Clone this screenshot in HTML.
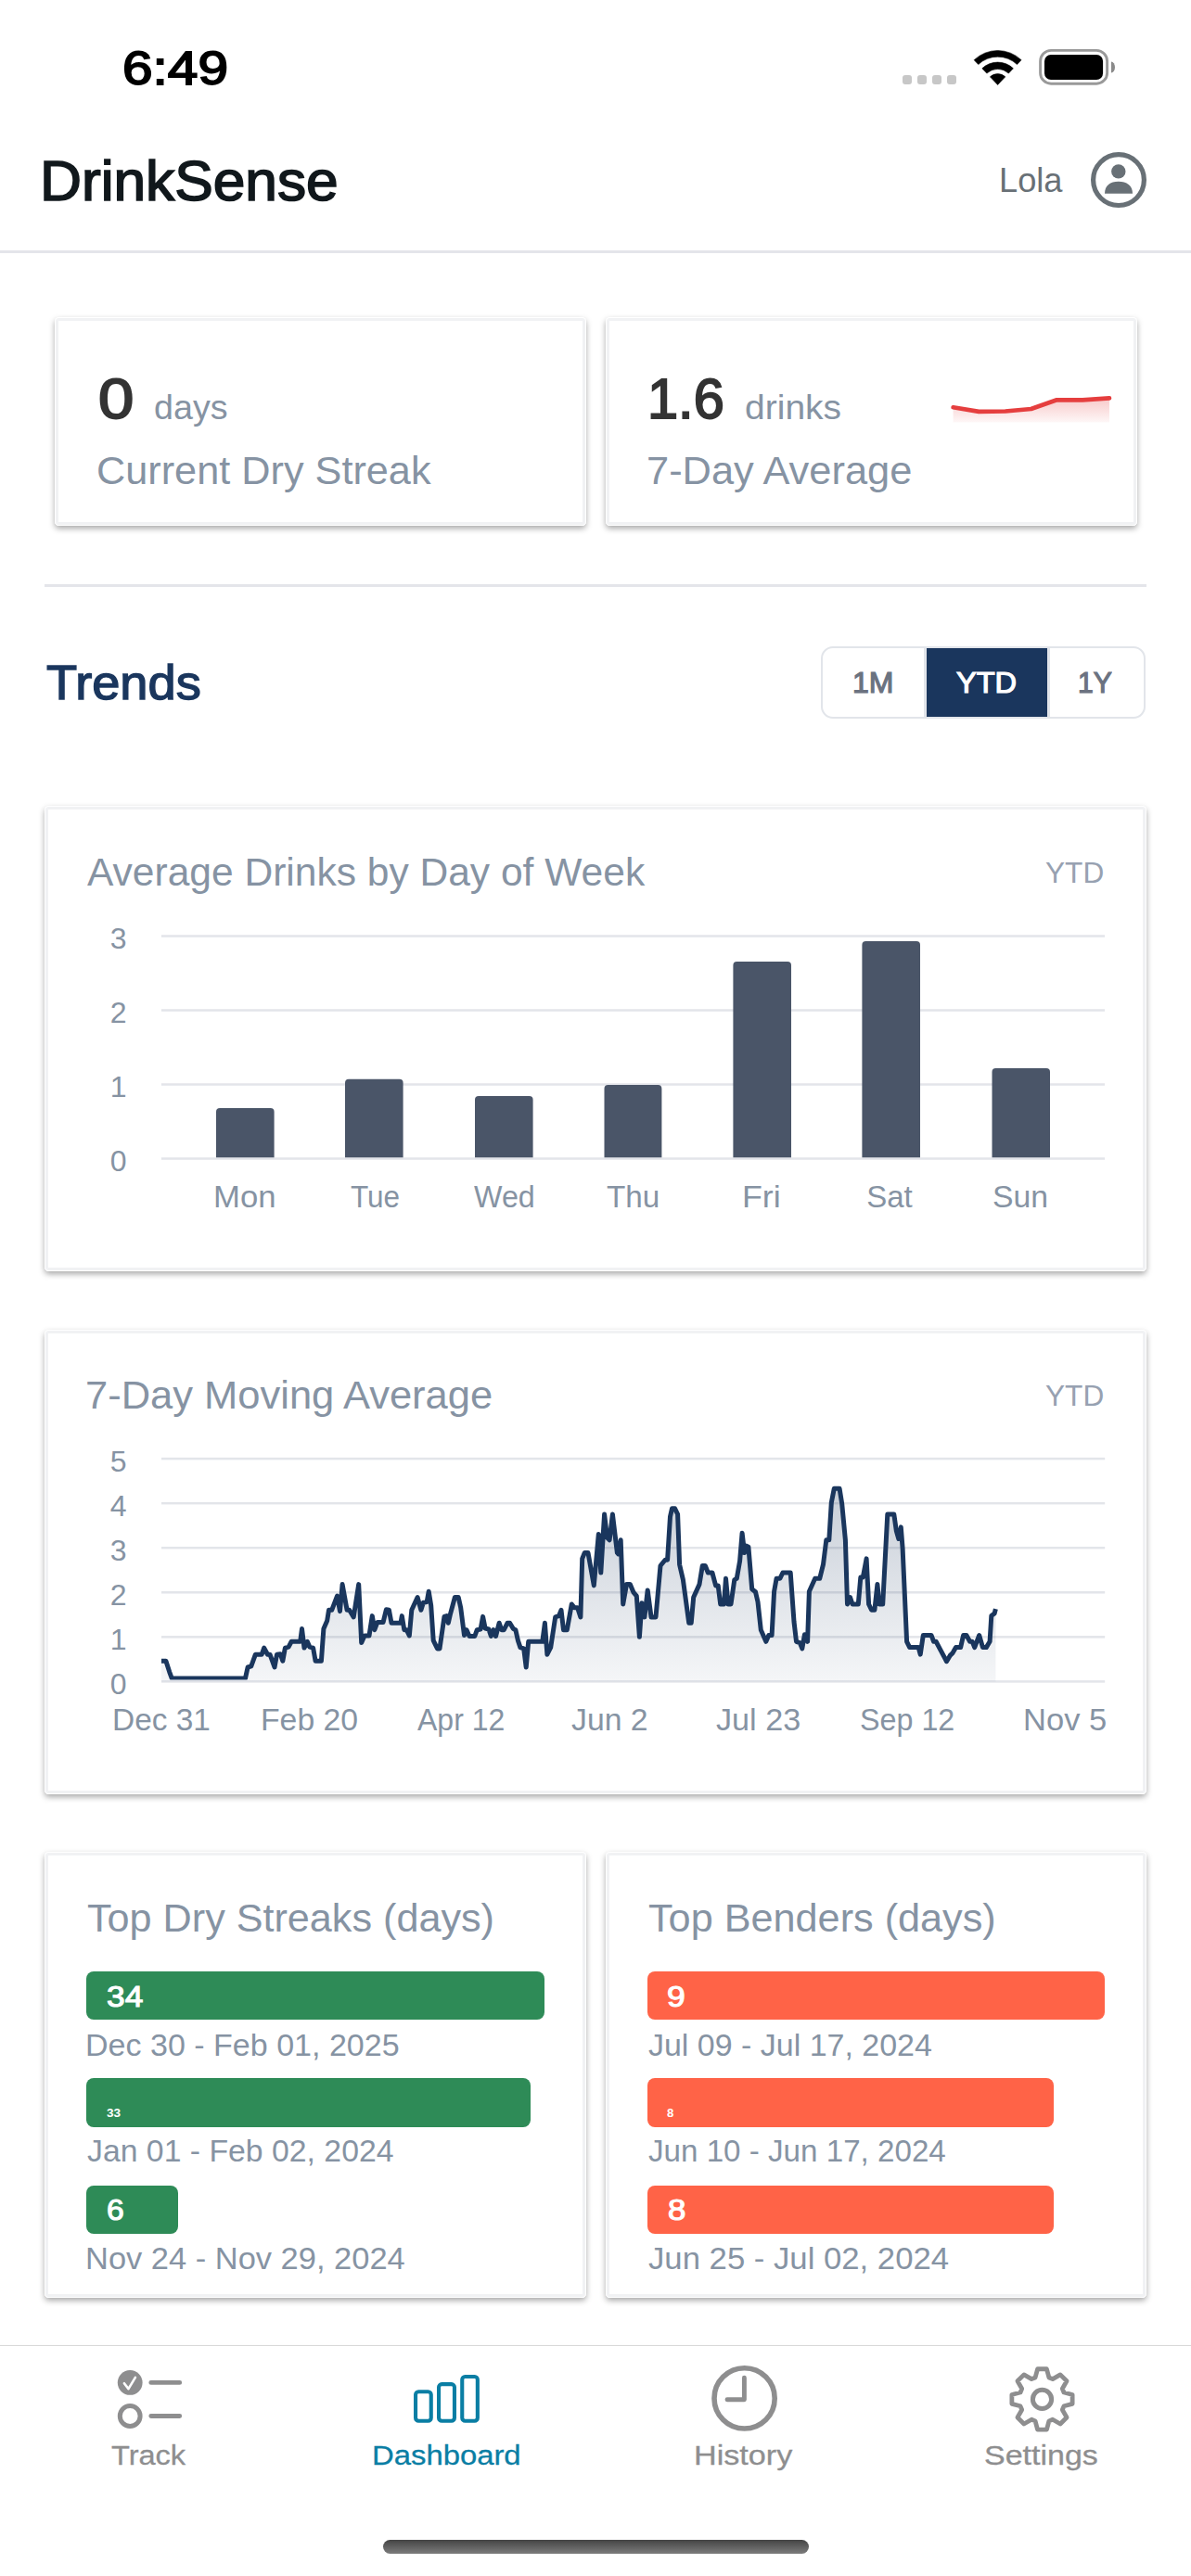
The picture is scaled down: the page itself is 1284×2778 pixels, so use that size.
<!DOCTYPE html>
<html lang="en"><head><meta charset="utf-8"><title>DrinkSense Dashboard</title>
<style>
html,body{margin:0;padding:0;background:#fff}
body{width:1284px;height:2778px;position:relative;overflow:hidden;font-family:"Liberation Sans",Arial,sans-serif}
.t{position:absolute;white-space:nowrap;line-height:1;transform-origin:0 0}
.abs{position:absolute;overflow:visible}
.card{position:absolute;background:#fff;box-sizing:border-box;border-radius:4.5px;box-shadow:inset 0 0 0 1px #fff,inset 0 0 0 4px #f1f2f4,0 3px 6px rgba(0,0,0,.34)}
</style></head>
<body>
<div class="t" style="left:131.51px;top:49.00px;font-size:50px;color:#000;transform:scaleX(1.1710);-webkit-text-stroke:1.8px #000;">6:49</div>
<div style="position:absolute;left:973.2px;top:81px;width:10px;height:10px;border-radius:3px;background:#c7c7c7"></div>
<div style="position:absolute;left:989.2px;top:81px;width:10px;height:10px;border-radius:3px;background:#c7c7c7"></div>
<div style="position:absolute;left:1005.0px;top:81px;width:10px;height:10px;border-radius:3px;background:#c7c7c7"></div>
<div style="position:absolute;left:1021.0px;top:81px;width:10px;height:10px;border-radius:3px;background:#c7c7c7"></div>
<svg class="abs" style="left:0;top:0" width="1284" height="120" viewBox="0 0 1284 120"><path d="M1054.74,69.52 L1050.13,64.66 A37.0,37.0 0 0 1 1101.07,64.66 L1096.46,69.52 A30.3,30.3 0 0 0 1054.74,69.52 Z M1063.83,79.10 L1058.80,73.80 A24.4,24.4 0 0 1 1092.40,73.80 L1087.37,79.10 A17.1,17.1 0 0 0 1063.83,79.10 Z M1075.6,91.5 L1067.41,82.87 A11.9,11.9 0 0 1 1083.79,82.87 Z" fill="#000" stroke="#000" stroke-width="0.6" stroke-linejoin="round"/><rect x="1121.6" y="54.4" width="72" height="35.8" rx="11.5" fill="none" stroke="#999" stroke-width="2.9"/><rect x="1126" y="58.9" width="63.1" height="27.2" rx="7" fill="#000"/><path d="M1198,66.4 A4,6.1 0 0 1 1198,78.6 Z" fill="#8a8a8a"/></svg>
<div class="t" style="left:42.75px;top:164.00px;font-size:62px;color:#11181c;transform:scaleX(1.0039);-webkit-text-stroke:1.7px #11181c;">DrinkSense</div>
<div class="t" style="left:1076.83px;top:176.00px;font-size:37px;color:#687076;transform:scaleX(0.9791);">Lola</div>
<svg class="abs" style="left:1170px;top:158px" width="72" height="72" viewBox="1170 158 72 72"><circle cx="1206" cy="194.1" r="27.4" fill="none" stroke="#687076" stroke-width="5.2"/><circle cx="1205.8" cy="184.9" r="7.7" fill="#687076"/><path d="M1191,208.8 C1191,200 1197,195.7 1205.8,195.7 C1214.6,195.7 1221,200 1221,208.8 Z" fill="#687076"/></svg>
<div style="position:absolute;left:0;top:270px;width:1284px;height:3px;background:#e4e5ea"></div>
<div class="card" style="left:58.5px;top:341.6px;width:573px;height:225.7px"></div>
<div class="card" style="left:652.7px;top:341.6px;width:573.3px;height:225.7px"></div>
<div class="t" style="left:105.72px;top:399.40px;font-size:62px;color:#333;transform:scaleX(1.1101);-webkit-text-stroke:2.0px #333;">0</div>
<div class="t" style="left:165.92px;top:421.10px;font-size:37px;color:#8693a3;transform:scaleX(1.0178);">days</div>
<div class="t" style="left:104.39px;top:485.50px;font-size:43px;color:#8693a3;transform:scaleX(1.0059);">Current Dry Streak</div>
<div class="t" style="left:697.58px;top:399.40px;font-size:62px;color:#333;transform:scaleX(0.9601);-webkit-text-stroke:2.0px #333;">1.6</div>
<div class="t" style="left:803.26px;top:420.80px;font-size:37px;color:#8693a3;transform:scaleX(1.0550);">drinks</div>
<div class="t" style="left:696.59px;top:485.50px;font-size:43px;color:#8693a3;transform:scaleX(1.0093);">7-Day Average</div>
<svg class="abs" style="left:1010px;top:415px" width="200" height="50" viewBox="1010 415 200 50"><defs><linearGradient id="rg" x1="0" y1="0" x2="0" y2="1"><stop offset="0" stop-color="#e53e3e" stop-opacity="0.28"/><stop offset="1" stop-color="#e53e3e" stop-opacity="0.04"/></linearGradient></defs><path d="M1027.6,439.3 L1055.3,443.9 L1083.8,443.5 L1111.6,441.0 L1139.3,431.3 L1167.0,431.3 L1196.0,429.3 L1196,455.6 L1027.6,455.6 Z" fill="url(#rg)"/><path d="M1027.6,439.3 L1055.3,443.9 L1083.8,443.5 L1111.6,441.0 L1139.3,431.3 L1167.0,431.3 L1196.0,429.3" fill="none" stroke="#e53e3e" stroke-width="4.7" stroke-linecap="round" stroke-linejoin="round"/></svg>
<div style="position:absolute;left:48px;top:630px;width:1188px;height:3px;background:#e4e5ea"></div>
<div class="t" style="left:49.91px;top:710.10px;font-size:52px;color:#1a365d;transform:scaleX(1.0434);-webkit-text-stroke:1.4px #1a365d;">Trends</div>
<div style="position:absolute;left:885.3px;top:696.6px;width:350px;height:78.4px;box-sizing:border-box;border:2.7px solid #e2e5ea;border-radius:13px;background:#fff"></div>
<div style="position:absolute;left:999px;top:698.8px;width:129.8px;height:74.1px;background:#1a365d"></div>
<div style="position:absolute;left:996.2px;top:698.8px;width:2.8px;height:74.1px;background:#e2e5ea"></div>
<div style="position:absolute;left:1128.8px;top:698.8px;width:2.8px;height:74.1px;background:#e2e5ea"></div>
<div class="t" style="left:918.57px;top:721.00px;font-size:31px;color:#6b7280;transform:scaleX(1.0325);-webkit-text-stroke:1.2px #6b7280;">1M</div>
<div class="t" style="left:1030.88px;top:721.00px;font-size:31px;color:#fff;transform:scaleX(1.0496);-webkit-text-stroke:1.2px #fff;">YTD</div>
<div class="t" style="left:1161.81px;top:721.00px;font-size:31px;color:#6b7280;transform:scaleX(0.9720);-webkit-text-stroke:1.2px #6b7280;">1Y</div>
<div class="card" style="left:47.9px;top:869.4px;width:1188.1px;height:501.7px"></div>
<div class="t" style="left:94.41px;top:918.70px;font-size:43px;color:#8693a3;transform:scaleX(0.9890);">Average Drinks by Day of Week</div>
<div class="t" style="left:1126.80px;top:925.20px;font-size:32px;color:#97a1b1;transform:scaleX(0.9877);">YTD</div>
<svg class="abs" style="left:0;top:980px" width="1284" height="300" viewBox="0 980 1284 300"><rect x="173.9" y="1248.25" width="1017.1" height="2.5" fill="#e3e5ea"/><rect x="173.9" y="1168.25" width="1017.1" height="2.5" fill="#e3e5ea"/><rect x="173.9" y="1088.25" width="1017.1" height="2.5" fill="#e3e5ea"/><rect x="173.9" y="1008.25" width="1017.1" height="2.5" fill="#e3e5ea"/><path d="M233,1248.2 V1199 Q233,1195 237,1195 H291.6 Q295.6,1195 295.6,1199 V1248.2 Z" fill="#4a5568"/><path d="M372,1248.2 V1167.8 Q372,1163.8 376,1163.8 H430.6 Q434.6,1163.8 434.6,1167.8 V1248.2 Z" fill="#4a5568"/><path d="M512,1248.2 V1186 Q512,1182 516,1182 H570.6 Q574.6,1182 574.6,1186 V1248.2 Z" fill="#4a5568"/><path d="M651.5,1248.2 V1174 Q651.5,1170 655.5,1170 H709.4 Q713.4,1170 713.4,1174 V1248.2 Z" fill="#4a5568"/><path d="M790.4,1248.2 V1041 Q790.4,1037 794.4,1037 H849 Q853,1037 853,1041 V1248.2 Z" fill="#4a5568"/><path d="M929.4,1248.2 V1019 Q929.4,1015 933.4,1015 H988 Q992,1015 992,1019 V1248.2 Z" fill="#4a5568"/><path d="M1069.5,1248.2 V1156 Q1069.5,1152 1073.5,1152 H1128 Q1132,1152 1132,1156 V1248.2 Z" fill="#4a5568"/></svg>
<div class="t" style="left:118.70px;top:1235.70px;font-size:32px;color:#8693a3">0</div>
<div class="t" style="left:118.70px;top:1155.75px;font-size:32px;color:#8693a3">1</div>
<div class="t" style="left:118.70px;top:1075.80px;font-size:32px;color:#8693a3">2</div>
<div class="t" style="left:118.70px;top:995.85px;font-size:32px;color:#8693a3">3</div>
<div class="t" style="left:229.75px;top:1274.20px;font-size:33px;color:#8693a3;transform:scaleX(1.0517);">Mon</div>
<div class="t" style="left:377.71px;top:1274.20px;font-size:33px;color:#8693a3;transform:scaleX(0.9540);">Tue</div>
<div class="t" style="left:510.87px;top:1274.20px;font-size:33px;color:#8693a3;transform:scaleX(0.9783);">Wed</div>
<div class="t" style="left:653.87px;top:1274.20px;font-size:33px;color:#8693a3;transform:scaleX(1.0082);">Thu</div>
<div class="t" style="left:800.07px;top:1274.20px;font-size:33px;color:#8693a3;transform:scaleX(1.0846);">Fri</div>
<div class="t" style="left:934.21px;top:1274.20px;font-size:33px;color:#8693a3;">Sat</div>
<div class="t" style="left:1069.98px;top:1274.20px;font-size:33px;color:#8693a3;transform:scaleX(1.0222);">Sun</div>
<div class="card" style="left:47.9px;top:1433.6px;width:1188.1px;height:501.6px"></div>
<div class="t" style="left:91.78px;top:1483.00px;font-size:43px;color:#8693a3;transform:scaleX(1.0113);">7-Day Moving Average</div>
<div class="t" style="left:1126.50px;top:1489.10px;font-size:32px;color:#97a1b1;transform:scaleX(0.9877);">YTD</div>
<div class="t" style="left:118.70px;top:1800.30px;font-size:32px;color:#8693a3">0</div>
<div class="t" style="left:118.70px;top:1752.24px;font-size:32px;color:#8693a3">1</div>
<div class="t" style="left:118.70px;top:1704.18px;font-size:32px;color:#8693a3">2</div>
<div class="t" style="left:118.70px;top:1656.12px;font-size:32px;color:#8693a3">3</div>
<div class="t" style="left:118.70px;top:1608.06px;font-size:32px;color:#8693a3">4</div>
<div class="t" style="left:118.70px;top:1560.00px;font-size:32px;color:#8693a3">5</div>
<div class="t" style="left:120.56px;top:1837.50px;font-size:33px;color:#8693a3;transform:scaleX(1.0128);">Dec 31</div>
<div class="t" style="left:280.83px;top:1837.50px;font-size:33px;color:#8693a3;transform:scaleX(1.0229);">Feb 20</div>
<div class="t" style="left:449.64px;top:1837.50px;font-size:33px;color:#8693a3;transform:scaleX(0.9696);">Apr 12</div>
<div class="t" style="left:616.06px;top:1837.50px;font-size:33px;color:#8693a3;transform:scaleX(1.0237);">Jun 2</div>
<div class="t" style="left:772.35px;top:1837.50px;font-size:33px;color:#8693a3;transform:scaleX(1.0353);">Jul 23</div>
<div class="t" style="left:927.15px;top:1837.50px;font-size:33px;color:#8693a3;transform:scaleX(0.9779);">Sep 12</div>
<div class="t" style="left:1102.57px;top:1837.50px;font-size:33px;color:#8693a3;transform:scaleX(1.0462);">Nov 5</div>
<svg class="abs" style="left:0;top:1540px" width="1284" height="300" viewBox="0 1540 1284 300"><defs><linearGradient id="ng" gradientUnits="userSpaceOnUse" x1="0" y1="1573" x2="0" y2="1813"><stop offset="0" stop-color="#1a365d" stop-opacity="0.27"/><stop offset="1" stop-color="#1a365d" stop-opacity="0.045"/></linearGradient><clipPath id="pc"><rect x="170" y="1540" width="1030" height="271.6"/></clipPath></defs><rect x="174" y="1812.15" width="1017.2" height="2.5" fill="#e3e5ea"/><rect x="174" y="1764.09" width="1017.2" height="2.5" fill="#e3e5ea"/><rect x="174" y="1716.03" width="1017.2" height="2.5" fill="#e3e5ea"/><rect x="174" y="1667.97" width="1017.2" height="2.5" fill="#e3e5ea"/><rect x="174" y="1619.91" width="1017.2" height="2.5" fill="#e3e5ea"/><rect x="174" y="1571.85" width="1017.2" height="2.5" fill="#e3e5ea"/><path d="M174.0,1791.2 L178.9,1791.2 L182.7,1803.1 L185.2,1809.9 L264.5,1809.9 L267.1,1798.0 L270.8,1796.8 L275.4,1784.2 L282.2,1784.2 L284.7,1777.1 L288.5,1784.2 L291.0,1784.2 L296.0,1798.0 L298.5,1784.2 L302.3,1783.7 L304.8,1791.2 L307.4,1777.1 L311.1,1776.1 L314.2,1770.3 L321.2,1770.3 L323.7,1770.3 L325.5,1756.5 L328.0,1777.1 L331.3,1770.3 L333.8,1776.1 L337.6,1777.1 L340.1,1791.2 L346.4,1791.2 L348.9,1756.5 L352.7,1747.7 L354.5,1736.3 L357.7,1736.3 L363.5,1721.2 L366.5,1737.6 L369.1,1708.6 L374.1,1736.3 L376.6,1736.3 L381.2,1743.9 L386.7,1708.6 L389.7,1771.6 L393.0,1764.0 L398.0,1764.0 L401.3,1742.6 L403.8,1757.7 L406.9,1749.4 L413.1,1749.4 L416.4,1735.8 L419.4,1736.3 L422.0,1750.2 L432.0,1750.2 L433.3,1742.6 L435.8,1757.7 L438.3,1757.7 L441.3,1764.0 L443.8,1736.3 L450.1,1722.5 L453.9,1736.3 L456.4,1728.3 L460.2,1727.5 L462.2,1716.2 L464.7,1731.3 L467.2,1769.1 L471.5,1777.9 L474.0,1777.9 L479.0,1743.4 L481.6,1742.6 L483.3,1750.2 L485.3,1741.4 L490.4,1722.5 L494.2,1722.5 L496.7,1733.8 L500.5,1763.5 L503.0,1757.7 L506.0,1764.5 L511.8,1764.5 L514.3,1757.7 L518.1,1757.0 L520.6,1743.4 L523.1,1756.0 L526.9,1757.0 L529.4,1764.5 L531.9,1757.7 L534.5,1764.5 L538.2,1750.2 L540.8,1757.7 L543.3,1757.7 L547.1,1750.2 L549.6,1750.2 L553.4,1756.5 L555.9,1757.7 L558.4,1769.1 L560.9,1776.6 L564.7,1777.9 L567.2,1798.0 L569.7,1770.3 L572.2,1770.3 L584.8,1770.3 L587.4,1750.2 L589.9,1784.2 L593.7,1776.6 L598.7,1743.9 L602.5,1742.6 L605.0,1736.3 L607.5,1757.7 L611.3,1757.7 L616.3,1730.0 L619.3,1733.8 L622.6,1733.8 L625.9,1743.9 L627.7,1680.9 L630.2,1674.6 L634.0,1674.6 L640.3,1709.9 L645.3,1654.5 L647.8,1696.0 L651.6,1633.0 L654.6,1658.2 L657.1,1660.8 L660.4,1633.0 L665.4,1674.6 L666.7,1675.9 L669.2,1660.8 L671.7,1730.0 L675.5,1708.6 L679.3,1708.6 L683.1,1717.4 L686.3,1721.2 L689.4,1765.3 L691.9,1728.8 L694.9,1743.9 L698.2,1714.9 L702.0,1743.9 L707.0,1743.9 L712.0,1688.5 L717.1,1682.2 L719.6,1682.2 L722.5,1635.6 L724.5,1626.8 L727.6,1626.8 L730.6,1633.0 L732.6,1687.2 L736.4,1703.6 L742.7,1750.2 L745.2,1750.2 L747.7,1722.5 L754.0,1708.6 L757.3,1688.5 L760.3,1688.5 L763.3,1696.0 L767.9,1696.0 L771.6,1709.9 L774.2,1709.9 L776.7,1730.0 L780.5,1730.0 L782.5,1702.3 L785.0,1730.0 L788.0,1730.0 L791.8,1703.6 L794.3,1702.3 L797.6,1683.4 L800.1,1653.2 L802.6,1674.6 L804.4,1667.1 L806.9,1668.3 L810.7,1713.7 L814.5,1716.7 L817.0,1727.5 L820.3,1757.7 L825.8,1770.3 L828.8,1763.5 L832.1,1763.5 L834.6,1716.2 L837.1,1702.3 L840.9,1702.3 L843.9,1696.0 L852.2,1696.0 L856.0,1748.9 L858.5,1770.3 L862.3,1771.6 L864.8,1777.9 L867.4,1762.8 L870.6,1770.3 L872.4,1716.2 L878.7,1702.3 L883.7,1702.3 L887.5,1687.2 L890.8,1660.8 L893.8,1660.8 L896.3,1620.5 L899.3,1605.3 L905.1,1605.3 L907.7,1621.7 L911.4,1660.8 L913.5,1730.0 L916.5,1722.5 L919.0,1730.0 L925.3,1730.0 L927.8,1701.1 L930.3,1701.1 L934.1,1680.9 L936.6,1730.0 L939.6,1736.3 L942.9,1736.3 L945.9,1708.6 L948.0,1730.0 L951.7,1730.0 L956.8,1633.0 L963.8,1633.0 L966.3,1650.7 L968.8,1659.5 L971.3,1646.9 L973.1,1669.6 L977.6,1770.3 L980.7,1776.6 L990.2,1776.6 L992.2,1784.2 L995.3,1763.5 L1004.1,1763.5 L1006.6,1770.3 L1009.1,1770.3 L1020.5,1791.7 L1024.2,1785.4 L1026.8,1782.9 L1030.5,1776.6 L1035.6,1776.6 L1038.6,1763.5 L1041.9,1763.5 L1045.6,1770.3 L1048.2,1770.3 L1050.7,1776.6 L1055.7,1763.5 L1059.5,1776.6 L1063.3,1776.6 L1067.1,1770.3 L1068.8,1742.6 L1072.1,1740.1 L1073.4,1735.1 L1073.4,1813.4 L174.0,1813.4 Z" fill="url(#ng)"/><path d="M174.0,1791.2 L178.9,1791.2 L182.7,1803.1 L185.2,1809.9 L264.5,1809.9 L267.1,1798.0 L270.8,1796.8 L275.4,1784.2 L282.2,1784.2 L284.7,1777.1 L288.5,1784.2 L291.0,1784.2 L296.0,1798.0 L298.5,1784.2 L302.3,1783.7 L304.8,1791.2 L307.4,1777.1 L311.1,1776.1 L314.2,1770.3 L321.2,1770.3 L323.7,1770.3 L325.5,1756.5 L328.0,1777.1 L331.3,1770.3 L333.8,1776.1 L337.6,1777.1 L340.1,1791.2 L346.4,1791.2 L348.9,1756.5 L352.7,1747.7 L354.5,1736.3 L357.7,1736.3 L363.5,1721.2 L366.5,1737.6 L369.1,1708.6 L374.1,1736.3 L376.6,1736.3 L381.2,1743.9 L386.7,1708.6 L389.7,1771.6 L393.0,1764.0 L398.0,1764.0 L401.3,1742.6 L403.8,1757.7 L406.9,1749.4 L413.1,1749.4 L416.4,1735.8 L419.4,1736.3 L422.0,1750.2 L432.0,1750.2 L433.3,1742.6 L435.8,1757.7 L438.3,1757.7 L441.3,1764.0 L443.8,1736.3 L450.1,1722.5 L453.9,1736.3 L456.4,1728.3 L460.2,1727.5 L462.2,1716.2 L464.7,1731.3 L467.2,1769.1 L471.5,1777.9 L474.0,1777.9 L479.0,1743.4 L481.6,1742.6 L483.3,1750.2 L485.3,1741.4 L490.4,1722.5 L494.2,1722.5 L496.7,1733.8 L500.5,1763.5 L503.0,1757.7 L506.0,1764.5 L511.8,1764.5 L514.3,1757.7 L518.1,1757.0 L520.6,1743.4 L523.1,1756.0 L526.9,1757.0 L529.4,1764.5 L531.9,1757.7 L534.5,1764.5 L538.2,1750.2 L540.8,1757.7 L543.3,1757.7 L547.1,1750.2 L549.6,1750.2 L553.4,1756.5 L555.9,1757.7 L558.4,1769.1 L560.9,1776.6 L564.7,1777.9 L567.2,1798.0 L569.7,1770.3 L572.2,1770.3 L584.8,1770.3 L587.4,1750.2 L589.9,1784.2 L593.7,1776.6 L598.7,1743.9 L602.5,1742.6 L605.0,1736.3 L607.5,1757.7 L611.3,1757.7 L616.3,1730.0 L619.3,1733.8 L622.6,1733.8 L625.9,1743.9 L627.7,1680.9 L630.2,1674.6 L634.0,1674.6 L640.3,1709.9 L645.3,1654.5 L647.8,1696.0 L651.6,1633.0 L654.6,1658.2 L657.1,1660.8 L660.4,1633.0 L665.4,1674.6 L666.7,1675.9 L669.2,1660.8 L671.7,1730.0 L675.5,1708.6 L679.3,1708.6 L683.1,1717.4 L686.3,1721.2 L689.4,1765.3 L691.9,1728.8 L694.9,1743.9 L698.2,1714.9 L702.0,1743.9 L707.0,1743.9 L712.0,1688.5 L717.1,1682.2 L719.6,1682.2 L722.5,1635.6 L724.5,1626.8 L727.6,1626.8 L730.6,1633.0 L732.6,1687.2 L736.4,1703.6 L742.7,1750.2 L745.2,1750.2 L747.7,1722.5 L754.0,1708.6 L757.3,1688.5 L760.3,1688.5 L763.3,1696.0 L767.9,1696.0 L771.6,1709.9 L774.2,1709.9 L776.7,1730.0 L780.5,1730.0 L782.5,1702.3 L785.0,1730.0 L788.0,1730.0 L791.8,1703.6 L794.3,1702.3 L797.6,1683.4 L800.1,1653.2 L802.6,1674.6 L804.4,1667.1 L806.9,1668.3 L810.7,1713.7 L814.5,1716.7 L817.0,1727.5 L820.3,1757.7 L825.8,1770.3 L828.8,1763.5 L832.1,1763.5 L834.6,1716.2 L837.1,1702.3 L840.9,1702.3 L843.9,1696.0 L852.2,1696.0 L856.0,1748.9 L858.5,1770.3 L862.3,1771.6 L864.8,1777.9 L867.4,1762.8 L870.6,1770.3 L872.4,1716.2 L878.7,1702.3 L883.7,1702.3 L887.5,1687.2 L890.8,1660.8 L893.8,1660.8 L896.3,1620.5 L899.3,1605.3 L905.1,1605.3 L907.7,1621.7 L911.4,1660.8 L913.5,1730.0 L916.5,1722.5 L919.0,1730.0 L925.3,1730.0 L927.8,1701.1 L930.3,1701.1 L934.1,1680.9 L936.6,1730.0 L939.6,1736.3 L942.9,1736.3 L945.9,1708.6 L948.0,1730.0 L951.7,1730.0 L956.8,1633.0 L963.8,1633.0 L966.3,1650.7 L968.8,1659.5 L971.3,1646.9 L973.1,1669.6 L977.6,1770.3 L980.7,1776.6 L990.2,1776.6 L992.2,1784.2 L995.3,1763.5 L1004.1,1763.5 L1006.6,1770.3 L1009.1,1770.3 L1020.5,1791.7 L1024.2,1785.4 L1026.8,1782.9 L1030.5,1776.6 L1035.6,1776.6 L1038.6,1763.5 L1041.9,1763.5 L1045.6,1770.3 L1048.2,1770.3 L1050.7,1776.6 L1055.7,1763.5 L1059.5,1776.6 L1063.3,1776.6 L1067.1,1770.3 L1068.8,1742.6 L1072.1,1740.1 L1073.4,1735.1" fill="none" stroke="#1a365d" stroke-width="5" stroke-linejoin="round" stroke-linecap="butt" clip-path="url(#pc)"/></svg>
<div class="card" style="left:48px;top:1997.4px;width:584.1px;height:480.5px"></div>
<div class="card" style="left:652.7px;top:1997.4px;width:583.3px;height:480.5px"></div>
<div class="t" style="left:93.75px;top:2046.50px;font-size:43px;color:#8693a3;transform:scaleX(1.0038);">Top Dry Streaks (days)</div>
<div class="t" style="left:698.95px;top:2046.50px;font-size:43px;color:#8693a3;transform:scaleX(1.0050);">Top Benders (days)</div>
<div style="position:absolute;left:93.0px;top:2126.0px;width:493.6px;height:51.8px;border-radius:8px;background:#2e8b57"></div>
<div style="position:absolute;left:93.0px;top:2241.2px;width:478.5px;height:52.4px;border-radius:8px;background:#2e8b57"></div>
<div style="position:absolute;left:93.0px;top:2357.0px;width:98.5px;height:51.6px;border-radius:8px;background:#2e8b57"></div>
<div style="position:absolute;left:698.1px;top:2126.0px;width:492.7px;height:51.8px;border-radius:8px;background:#ff6347"></div>
<div style="position:absolute;left:698.1px;top:2241.2px;width:437.5px;height:52.4px;border-radius:8px;background:#ff6347"></div>
<div style="position:absolute;left:698.1px;top:2357.0px;width:437.5px;height:51.6px;border-radius:8px;background:#ff6347"></div>
<div class="t" style="left:115.01px;top:2137.60px;font-size:31px;color:#fff;transform:scaleX(1.1391);-webkit-text-stroke:1.1px #fff;">34</div>
<div class="t" style="left:114.59px;top:2272.80px;font-size:12px;font-weight:700;color:#fff;transform:scaleX(1.1317);">33</div>
<div class="t" style="left:114.64px;top:2368.20px;font-size:31px;color:#fff;transform:scaleX(1.0846);-webkit-text-stroke:1.1px #fff;">6</div>
<div class="t" style="left:719.48px;top:2137.60px;font-size:31px;color:#fff;transform:scaleX(1.1451);-webkit-text-stroke:1.1px #fff;">9</div>
<div class="t" style="left:719.38px;top:2272.80px;font-size:12px;font-weight:700;color:#fff;transform:scaleX(1.0987);">8</div>
<div class="t" style="left:719.65px;top:2368.20px;font-size:31px;color:#fff;transform:scaleX(1.1256);-webkit-text-stroke:1.1px #fff;">8</div>
<div class="t" style="left:92.21px;top:2188.50px;font-size:33px;color:#8693a3;transform:scaleX(1.0312);">Dec 30 - Feb 01, 2025</div>
<div class="t" style="left:94.16px;top:2303.40px;font-size:33px;color:#8693a3;transform:scaleX(1.0236);">Jan 01 - Feb 02, 2024</div>
<div class="t" style="left:91.87px;top:2419.00px;font-size:33px;color:#8693a3;transform:scaleX(1.0440);">Nov 24 - Nov 29, 2024</div>
<div class="t" style="left:698.56px;top:2188.50px;font-size:33px;color:#8693a3;transform:scaleX(1.0290);">Jul 09 - Jul 17, 2024</div>
<div class="t" style="left:698.57px;top:2303.40px;font-size:33px;color:#8693a3;transform:scaleX(1.0049);">Jun 10 - Jun 17, 2024</div>
<div class="t" style="left:698.54px;top:2419.00px;font-size:33px;color:#8693a3;transform:scaleX(1.0514);">Jun 25 - Jul 02, 2024</div>
<div style="position:absolute;left:0;top:2528.5px;width:1284px;height:249.5px;background:#fff;border-top:1.5px solid #d8d8d8"></div>
<svg class="abs" style="left:0;top:2540px" width="1284" height="100" viewBox="0 2540 1284 100"><circle cx="140.2" cy="2569.4" r="13.4" fill="#8e8e8f"/><path d="M133.9,2570.2 L138.5,2576.1 L145.9,2563.9" fill="none" stroke="#fff" stroke-width="2.6" stroke-linecap="round" stroke-linejoin="round"/><circle cx="140.2" cy="2605.5" r="10.9" fill="none" stroke="#8e8e8f" stroke-width="5"/><path d="M162.8,2569.4 H193.7 M162.8,2605.5 H193.7" stroke="#8e8e8f" stroke-width="4.9" stroke-linecap="round"/><g fill="none" stroke="#0a7ea4" stroke-width="4.1"><rect x="448.05" y="2579.25" width="16.7" height="31.5" rx="3.2"/><rect x="473.05" y="2571.15" width="16.9" height="39.6" rx="3.2"/><rect x="498.25" y="2563.05" width="16.6" height="47.7" rx="3.2"/></g><circle cx="802.6" cy="2586.4" r="32.6" fill="none" stroke="#8e8e8f" stroke-width="5.6"/><path d="M802.4,2564.3 V2587.7 H784" fill="none" stroke="#8e8e8f" stroke-width="4.9" stroke-linecap="round" stroke-linejoin="round"/><path d="M1116.10,2563.94 L1118.57,2554.77 L1128.43,2554.77 L1130.90,2563.94 L1134.86,2565.58 L1143.08,2560.84 L1150.06,2567.82 L1145.32,2576.04 L1146.96,2580.00 L1156.13,2582.47 L1156.13,2592.33 L1146.96,2594.80 L1145.32,2598.76 L1150.06,2606.98 L1143.08,2613.96 L1134.86,2609.22 L1130.90,2610.86 L1128.43,2620.03 L1118.57,2620.03 L1116.10,2610.86 L1112.14,2609.22 L1103.92,2613.96 L1096.94,2606.98 L1101.68,2598.76 L1100.04,2594.80 L1090.87,2592.33 L1090.87,2582.47 L1100.04,2580.00 L1101.68,2576.04 L1096.94,2567.82 L1103.92,2560.84 L1112.14,2565.58 Z" fill="none" stroke="#8e8e8f" stroke-width="4.8" stroke-linejoin="round"/><circle cx="1123.5" cy="2587.4" r="10.1" fill="none" stroke="#8e8e8f" stroke-width="5"/></svg>
<div class="t" style="left:119.53px;top:2632.80px;font-size:30px;color:#8e8e8f;transform:scaleX(1.0838);-webkit-text-stroke:0.3px #8e8e8f;">Track</div>
<div class="t" style="left:400.76px;top:2632.80px;font-size:30px;color:#0a7ea4;transform:scaleX(1.0943);-webkit-text-stroke:0.3px #0a7ea4;">Dashboard</div>
<div class="t" style="left:747.75px;top:2632.80px;font-size:30px;color:#8e8e8f;transform:scaleX(1.1386);-webkit-text-stroke:0.3px #8e8e8f;">History</div>
<div class="t" style="left:1061.22px;top:2632.80px;font-size:30px;color:#8e8e8f;transform:scaleX(1.1325);-webkit-text-stroke:0.3px #8e8e8f;">Settings</div>
<div style="position:absolute;left:412.7px;top:2738.8px;width:459.4px;height:15.2px;border-radius:8px;background:linear-gradient(#444,#7c7c7c)"></div>
<script>(function(){var w=window.innerWidth;if(w&&Math.abs(w-1284)>4){document.documentElement.style.zoom=(w/1284);}})();</script>
</body></html>
